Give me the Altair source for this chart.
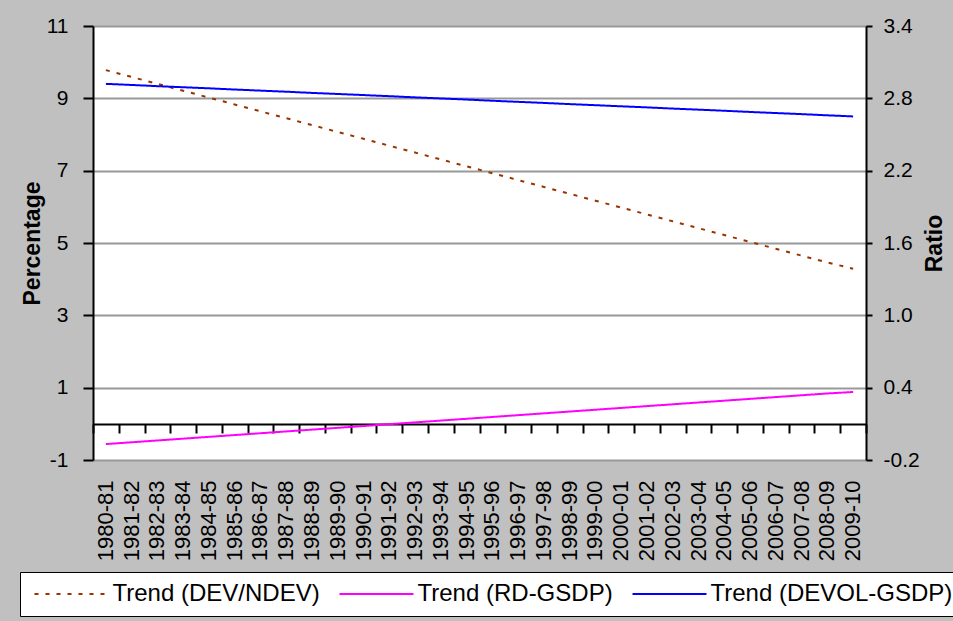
import altair as alt
import pandas as pd

years = ["1980-81", "1981-82", "1982-83", "1983-84", "1984-85", "1985-86", "1986-87",
         "1987-88", "1988-89", "1989-90", "1990-91", "1991-92", "1992-93", "1993-94",
         "1994-95", "1995-96", "1996-97", "1997-98", "1998-99", "1999-00", "2000-01",
         "2001-02", "2002-03", "2003-04", "2004-05", "2005-06", "2006-07", "2007-08",
         "2008-09", "2009-10"]

# Percentage axis
dev_ndev = [9.78, 9.59, 9.40, 9.21, 9.02, 8.83, 8.64, 8.45, 8.26, 8.07,
            7.88, 7.69, 7.50, 7.31, 7.12, 6.93, 6.74, 6.55, 6.36, 6.17,
            5.98, 5.79, 5.60, 5.41, 5.22, 5.03, 4.84, 4.65, 4.46, 4.29]
rd_gsdp = [-0.56, -0.51, -0.46, -0.41, -0.36, -0.31, -0.26, -0.21, -0.16, -0.11,
           -0.06, -0.01, 0.04, 0.09, 0.14, 0.19, 0.24, 0.29, 0.34, 0.39,
           0.44, 0.49, 0.54, 0.59, 0.64, 0.69, 0.74, 0.79, 0.84, 0.88]
# Ratio axis
devol_gsdp = [2.920, 2.911, 2.901, 2.892, 2.883, 2.873, 2.864, 2.855, 2.845, 2.836,
              2.827, 2.818, 2.808, 2.799, 2.790, 2.780, 2.771, 2.762, 2.752, 2.743,
              2.734, 2.725, 2.715, 2.706, 2.697, 2.687, 2.678, 2.669, 2.659, 2.650]

series_names = ["Trend (DEV/NDEV)", "Trend (RD-GSDP)", "Trend (DEVOL-GSDP)"]
series_colors = ["#993300", "#FF00FF", "#0000FF"]
series_dashes = [[4, 7], [1, 0], [1, 0]]

left_ticks = [-1, 1, 3, 5, 7, 9, 11]
right_ticks = [-0.2, 0.4, 1.0, 1.6, 2.2, 2.8, 3.4]

left_df = pd.DataFrame({
    "Year": years + years,
    "Series": [series_names[0]] * len(years) + [series_names[1]] * len(years),
    "Value": dev_ndev + rd_gsdp,
})
right_df = pd.DataFrame({
    "Year": years,
    "Series": [series_names[2]] * len(years),
    "Value": devol_gsdp,
})

FONT = "Liberation Sans"
xscale = alt.Scale(type="band", paddingInner=0, paddingOuter=0)
MINUS_FIX = "replace(datum.label, '\u2212', '-')"

color_enc = alt.Color(
    "Series:N", title=None,
    scale=alt.Scale(domain=series_names, range=series_colors),
    legend=alt.Legend(
        orient="none", legendX=-73, legendY=546, direction="horizontal",
        fillColor="white", strokeColor="black", padding=10,
        labelFont=FONT, labelFontSize=24, labelColor="black", labelLimit=500,
        symbolType="M-3.7,0H3.7", symbolSize=400, symbolStrokeWidth=2,
        symbolOffset=29.5, labelOffset=29, columnPadding=15,
    ),
)
dash_enc = alt.StrokeDash(
    "Series:N", title=None,
    scale=alt.Scale(domain=series_names, range=series_dashes),
)

left = alt.Chart(left_df).mark_line(strokeWidth=2).encode(
    x=alt.X("Year:N", sort=years, scale=xscale,
            axis=alt.Axis(orient="bottom", title=None, labelAngle=-90, domain=False,
                          ticks=False, labelPadding=20, labelFont=FONT,
                          labelFontSize=22, labelColor="black", grid=False)),
    y=alt.Y("Value:Q", scale=alt.Scale(domain=[-1, 11], nice=False, zero=False),
            axis=alt.Axis(values=left_ticks, title="Percentage", grid=True,
                          gridColor="#999999", gridWidth=2,
                          domainColor="black", domainWidth=2,
                          tickColor="black", tickWidth=2, tickSize=10,
                          labelFont=FONT, labelFontSize=21, labelColor="black",
                          labelPadding=15, labelExpr=MINUS_FIX,
                          titleFont=FONT, titleFontSize=23, titleFontWeight="bold",
                          titleColor="black", titlePadding=2)),
    color=color_enc,
    strokeDash=dash_enc,
)

right = alt.Chart(right_df).mark_line(strokeWidth=2).encode(
    x=alt.X("Year:N", sort=years, scale=xscale,
            axis=alt.Axis(orient="bottom", offset=-36, labels=False, title=None,
                          domain=True, domainColor="black", domainWidth=2,
                          ticks=True, tickBand="extent", tickSize=9,
                          tickColor="black", tickWidth=2, grid=False)),
    y=alt.Y("Value:Q", scale=alt.Scale(domain=[-0.2, 3.4], nice=False, zero=False),
            axis=alt.Axis(orient="right", values=right_ticks, format=".1f",
                          title="Ratio", grid=False,
                          domainColor="black", domainWidth=2,
                          tickColor="black", tickWidth=2, tickSize=6,
                          labelFont=FONT, labelFontSize=21, labelColor="black",
                          labelPadding=11, labelExpr=MINUS_FIX,
                          titleFont=FONT, titleFontSize=23, titleFontWeight="bold",
                          titleColor="black", titleAngle=270, titlePadding=27)),
    color=color_enc,
    strokeDash=dash_enc,
)

chart = alt.layer(left, right).resolve_scale(
    y="independent"
).resolve_axis(
    x="independent", y="independent"
).properties(
    width=773, height=434,
    padding={"left": 93, "top": 26, "right": 87, "bottom": 161},
    autosize=alt.AutoSizeParams(type="none"),
    background="#C0C0C0",
).configure_view(
    stroke=None, fill="white"
)

chart.save("out.html", embed_options={"renderer": "svg", "actions": False})
